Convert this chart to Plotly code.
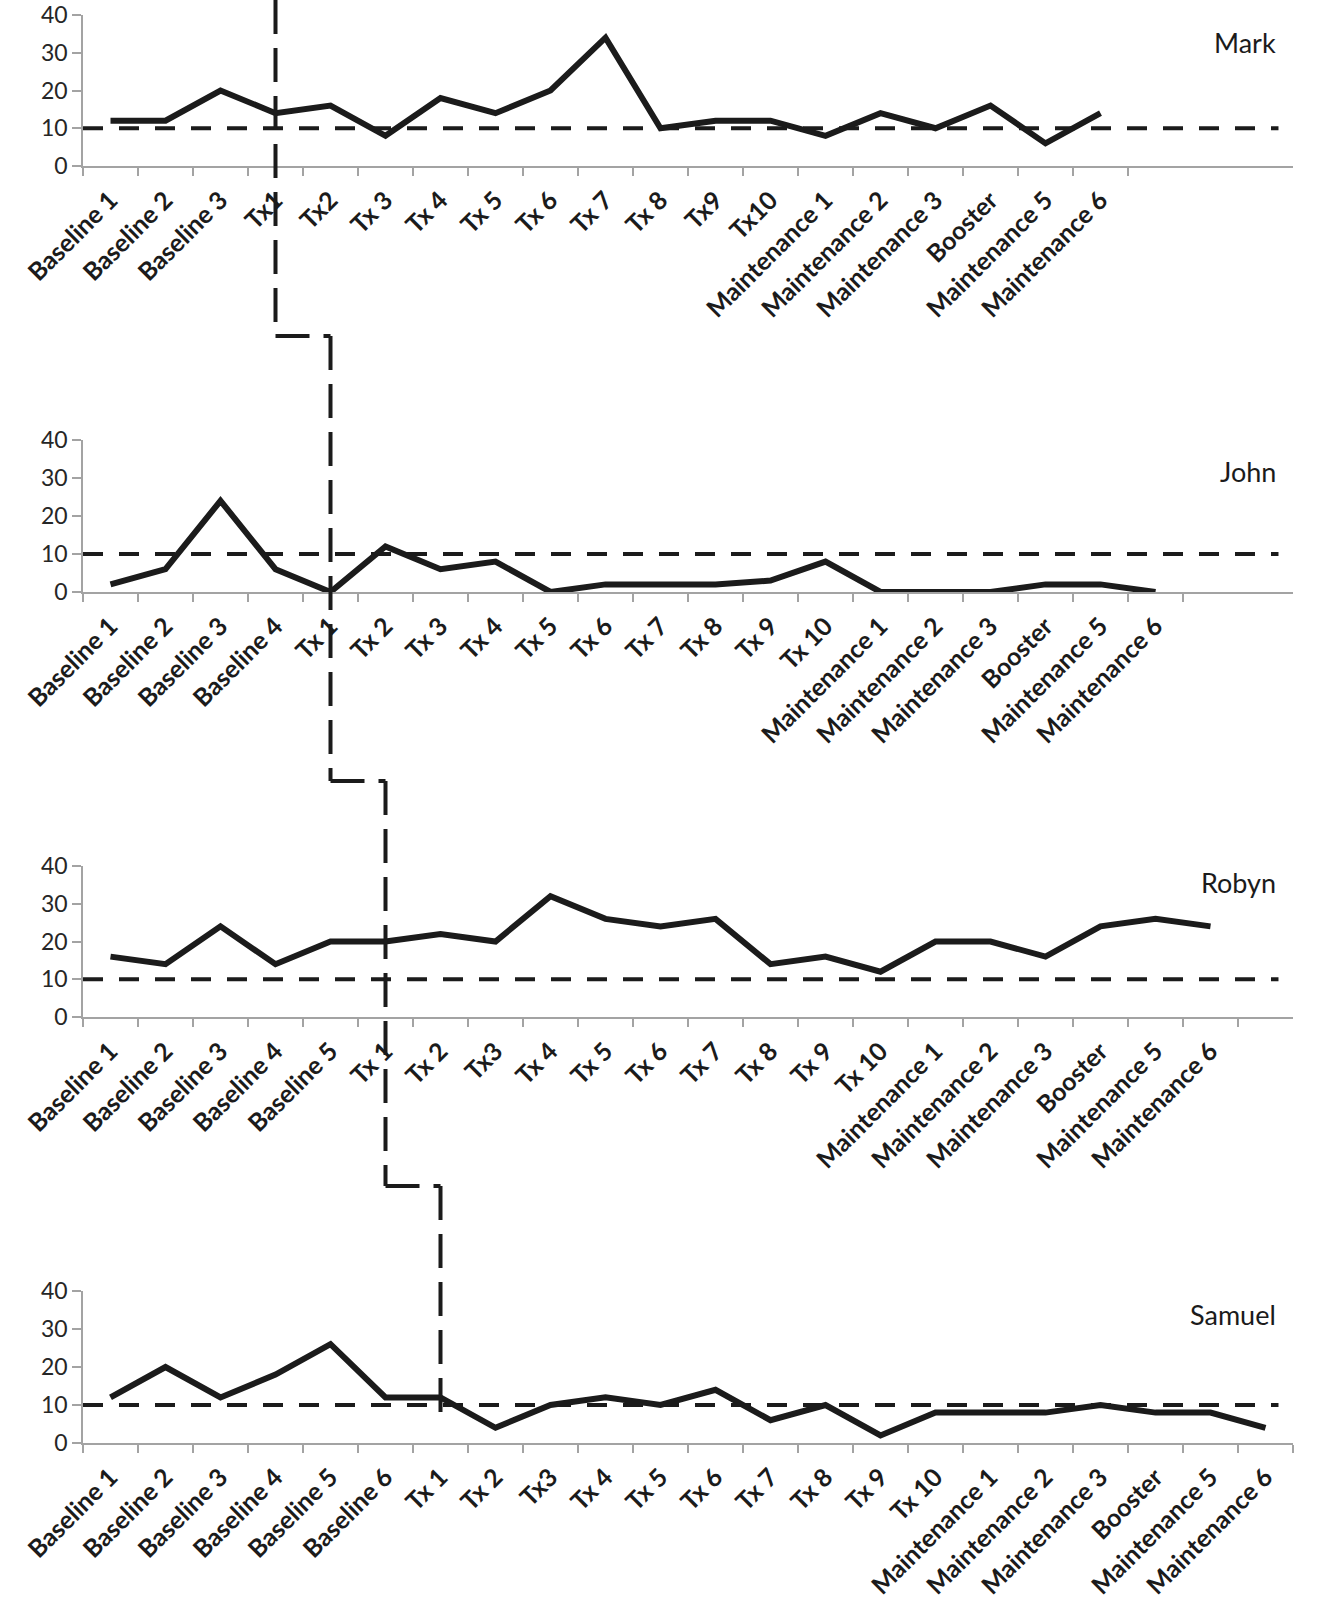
import plotly.graph_objects as go
from plotly.subplots import make_subplots

# session labels for each participant
maint = ["Maintenance 1", "Maintenance 2", "Maintenance 3", "Booster", "Maintenance 5", "Maintenance 6"]

mark_labels = ["Baseline 1", "Baseline 2", "Baseline 3",
               "Tx1", "Tx2", "Tx 3", "Tx 4", "Tx 5", "Tx 6", "Tx 7", "Tx 8", "Tx9", "Tx10"] + maint
john_labels = ["Baseline 1", "Baseline 2", "Baseline 3", "Baseline 4",
               "Tx 1", "Tx 2", "Tx 3", "Tx 4", "Tx 5", "Tx 6", "Tx 7", "Tx 8", "Tx 9", "Tx 10"] + maint
robyn_labels = ["Baseline 1", "Baseline 2", "Baseline 3", "Baseline 4", "Baseline 5",
                "Tx 1", "Tx 2", "Tx3", "Tx 4", "Tx 5", "Tx 6", "Tx 7", "Tx 8", "Tx 9", "Tx 10"] + maint
samuel_labels = ["Baseline 1", "Baseline 2", "Baseline 3", "Baseline 4", "Baseline 5", "Baseline 6",
                 "Tx 1", "Tx 2", "Tx3", "Tx 4", "Tx 5", "Tx 6", "Tx 7", "Tx 8", "Tx 9", "Tx 10"] + maint

# scores
mark_vals = [12, 12, 20, 14, 16, 8, 18, 14, 20, 34, 10, 12, 12, 8, 14, 10, 16, 6, 14]
john_vals = [2, 6, 24, 6, 0, 12, 6, 8, 0, 2, 2, 2, 3, 8, 0, 0, 0, 2, 2, 0]
robyn_vals = [16, 14, 24, 14, 20, 20, 22, 20, 32, 26, 24, 26, 14, 16, 12, 20, 20, 16, 24, 26, 24]
samuel_vals = [12, 20, 12, 18, 26, 12, 12, 4, 10, 12, 10, 14, 6, 10, 2, 8, 8, 8, 10, 8, 8, 4]

names = ["Mark", "John", "Robyn", "Samuel"]
labels = [mark_labels, john_labels, robyn_labels, samuel_labels]
values = [mark_vals, john_vals, robyn_vals, samuel_vals]
cutoff = 10
n_slots = 22

W, H = 1324, 1606
# panel extents in pixels (top at 40, bottom at 0)
panel_px = [(15, 166), (440, 592), (866, 1017), (1291, 1443)]
name_offset = [28, 31, 16, 23]
step_px = [0, 336, 781, 1186, 1422]  # phase-change line corners


def py(px):
    return 1 - px / H


fig = make_subplots(rows=4, cols=1)

FONT = "Lato"
AXIS_GRAY = "#a3a3a3"
INK = "#1b1b1b"

for k in range(4):
    top, bot = panel_px[k]
    xa = "x" if k == 0 else f"x{k + 1}"
    ya = "y" if k == 0 else f"y{k + 1}"
    fig.add_trace(go.Scatter(
        x=labels[k], y=values[k], mode="lines",
        line=dict(color=INK, width=6),
        showlegend=False, hoverinfo="skip"
    ), row=k + 1, col=1)

    fig.update_xaxes(
        domain=[0, 1], type="category", categoryarray=labels[k], categoryorder="array",
        range=[-0.5, n_slots - 0.5], tickson="boundaries",
        showline=True, linecolor=AXIS_GRAY, linewidth=1.5,
        ticks="outside", ticklen=8, tickcolor=AXIS_GRAY, tickwidth=1.5,
        tickangle=-45, ticklabelstandoff=8,
        showgrid=False, zeroline=False, automargin=False,
        tickfont=dict(family=FONT, size=25, color=INK, weight="bold"),
        row=k + 1, col=1)
    fig.update_yaxes(
        domain=[py(bot), py(top)], range=[0, 40], dtick=10,
        showline=True, linecolor=AXIS_GRAY, linewidth=1.5,
        ticks="outside", ticklen=9, tickcolor=AXIS_GRAY, tickwidth=1.5,
        showgrid=False, zeroline=False, automargin=False,
        tickfont=dict(family=FONT, size=23, color="#262626"),
        row=k + 1, col=1)

    # cutoff line at 10
    fig.add_shape(type="line", xref=f"{xa} domain", yref=ya,
                  x0=0, x1=0.988, y0=cutoff, y1=cutoff,
                  line=dict(color=INK, width=4, dash="20px,16px"))

    # participant name
    fig.add_annotation(text=names[k], xref=f"{xa} domain", yref="paper",
                       x=0.988, y=py(top + name_offset[k]), xanchor="right", yanchor="middle",
                       showarrow=False, font=dict(family=FONT, size=27, color=INK))

# multiple-baseline phase-change line (at first treatment session)
phase_idx = [len([l for l in lab if l.startswith("Baseline")]) for lab in labels]
phase_dash = dict(color=INK, width=4, dash="34px,14px")
for k in range(4):
    xa = "x" if k == 0 else f"x{k + 1}"
    fig.add_shape(type="line", xref=xa, yref="paper",
                  x0=phase_idx[k], x1=phase_idx[k],
                  y0=py(step_px[k]), y1=py(step_px[k + 1]), line=phase_dash)
    if k < 3:
        fig.add_shape(type="line", xref="x", yref="paper",
                      x0=phase_idx[k], x1=phase_idx[k + 1],
                      y0=py(step_px[k + 1]), y1=py(step_px[k + 1]), line=phase_dash)

fig.update_layout(
    width=W, height=H,
    margin=dict(l=83, r=W - 1293, t=0, b=0),
    plot_bgcolor="white", paper_bgcolor="white",
    font=dict(family=FONT, color=INK),
    showlegend=False,
)

# drop the default page margin so the figure fills the window exactly
fig.write_html("out.html", config={"displayModeBar": False},
               post_script="document.body.style.margin='0';document.body.style.overflow='hidden';")
